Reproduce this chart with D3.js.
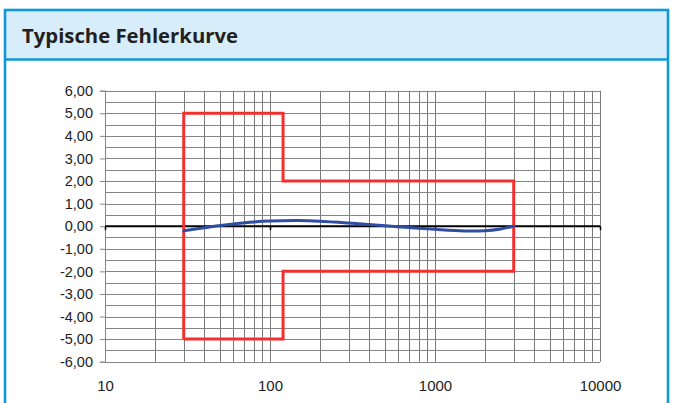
<!DOCTYPE html>
<html><head><meta charset="utf-8">
<script src="https://cdn.jsdelivr.net/npm/d3@7"></script>
<style>html,body{margin:0;padding:0;background:#fff;overflow:hidden}</style>
</head><body><svg id="c" width="684" height="403"></svg>
<script>
const title = "Typische Fehlerkurve";
const xTickValues = [10, 100, 1000, 10000];
const yTickValues = [-6,-5,-4,-3,-2,-1,0,1,2,3,4,5,6];
// tolerance envelope (x, y)
const limitX = [30, 30, 120, 120, 3000, 3000, 120, 120, 30];
const limitY = [-5, 5, 5, 2, 2, -2, -2, -5, -5];
// typical error curve
const curveX = [30, 40, 50, 60, 80, 100, 150, 200, 300, 500, 700, 1000, 1500, 2000, 2500, 3000];
const curveY = [-0.2, -0.07, 0.03, 0.1, 0.19, 0.23, 0.25, 0.22, 0.14, 0.02, -0.06, -0.14, -0.21, -0.2, -0.12, 0.0];

const svg = d3.select("#c");
// frame
svg.append("rect").attr("x",5).attr("y",10).attr("width",663).attr("height",50).attr("fill","#d7edf9");
svg.append("rect").attr("x",5).attr("y",10).attr("width",663).attr("height",420)
  .attr("fill","none").attr("stroke","#0f97db").attr("stroke-width",2.6);
svg.append("line").attr("x1",5).attr("x2",668).attr("y1",59.5).attr("y2",59.5)
  .attr("stroke","#0f97db").attr("stroke-width",2.6);
svg.append("text").attr("x",22).attr("y",43).text(title)
  .attr("font-family","'Open Sans', sans-serif").attr("font-weight","bold").attr("font-size",19.5)
  .attr("fill","#231f20").attr("textLength",216).attr("lengthAdjust","spacingAndGlyphs");

const x = d3.scaleLog().domain([10,10000]).range([105,600]);
const y = d3.scaleLinear().domain([-6,6]).range([361.7,90.7]);

const g = svg.append("g");
// vertical grid
const minor = [];
for (let d = 10; d < 10000; d *= 10) for (let k = 1; k <= 9; k++) minor.push(d*k);
minor.push(10000);
g.selectAll(".vg").data(minor).join("line")
  .attr("x1",d=>Math.round(x(d))+0.5).attr("x2",d=>Math.round(x(d))+0.5)
  .attr("y1",y(6)).attr("y2",y(-6)).attr("stroke","#7a7a7a").attr("stroke-width",1);
// horizontal grid
const hg = d3.range(-12,13).map(v=>v/2);
g.selectAll(".hg").data(hg).join("line")
  .attr("x1",x(10)).attr("x2",x(10000))
  .attr("y1",d=>Math.round(y(d))+0.5).attr("y2",d=>Math.round(y(d))+0.5)
  .attr("stroke","#858585").attr("stroke-width",1);

// y axis
const yAxis = d3.axisLeft(y).tickValues(yTickValues).tickSize(5).tickPadding(7)
  .tickFormat(d=>d3.format(".2f")(d).replace(".",",").replace("−","-"));
const ya = svg.append("g").attr("transform","translate(105,0)").call(yAxis);
ya.select(".domain").attr("stroke","#858585");
ya.selectAll(".tick line").attr("stroke","#858585");
ya.selectAll("text").attr("font-family","'Liberation Sans', Arial, sans-serif").attr("font-size",14.5).attr("fill","#222");

// x axis labels
const xAxis = d3.axisBottom(x).tickValues(xTickValues).tickSize(0).tickPadding(19).tickFormat(d3.format("d"));
const xa = svg.append("g").attr("transform",`translate(0,${y(-6)})`).call(xAxis);
xa.select(".domain").remove();
xa.selectAll("text").attr("font-family","'Liberation Sans', Arial, sans-serif").attr("font-size",15).attr("fill","#222");

// zero line with ticks
const za = d3.axisBottom(x).tickValues(xTickValues).tickSize(4).tickFormat("");
const zg = svg.append("g").attr("transform",`translate(0,${y(0)})`).call(za);
zg.select(".domain").attr("stroke","#000").attr("stroke-width",2).attr("d",`M${x(10)},0H${x(10000)}`);
zg.selectAll(".tick line").attr("stroke","#000").attr("stroke-width",1.5);

// limits
const lim = limitX.map((v,i)=>[v,limitY[i]]);
svg.append("path").datum(lim)
  .attr("d", d3.line().x(d=>x(d[0])).y(d=>y(d[1])))
  .attr("fill","none").attr("stroke","#f0312f").attr("stroke-width",3).attr("stroke-linejoin","miter");

// curve
const cv = curveX.map((v,i)=>[v,curveY[i]]);
svg.append("path").datum(cv)
  .attr("d", d3.line().curve(d3.curveCatmullRom).x(d=>x(d[0])).y(d=>y(d[1])))
  .attr("fill","none").attr("stroke","#2f4ea3").attr("stroke-width",3).attr("stroke-linecap","round");
</script></body></html>
